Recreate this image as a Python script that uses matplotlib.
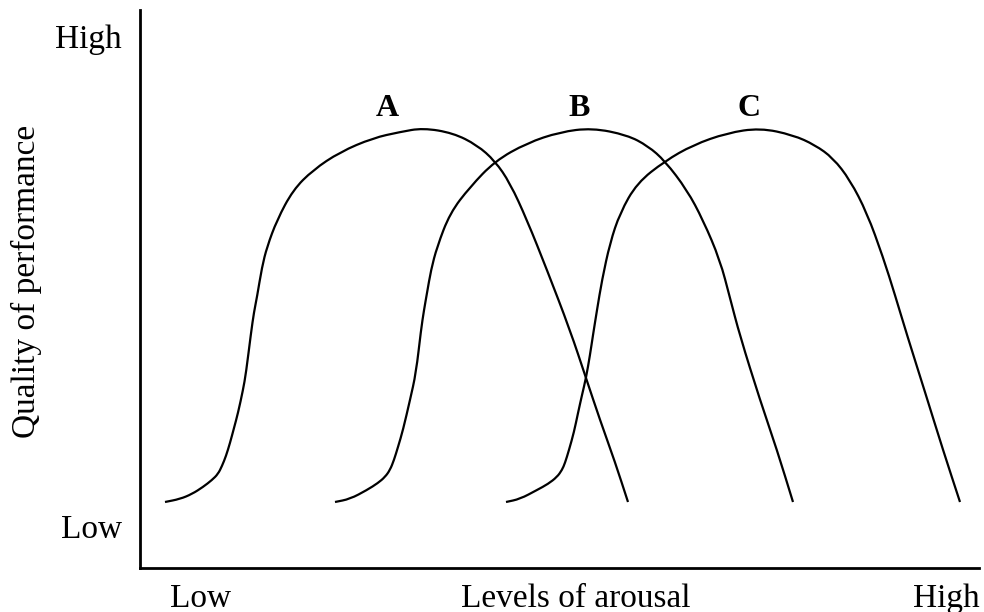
import matplotlib
matplotlib.use("Agg")
import matplotlib.pyplot as plt
from matplotlib.path import Path
from matplotlib.patches import PathPatch

plt.rcParams['font.family'] = ['Liberation Serif', 'DejaVu Serif']

# curves (x = arousal, y = performance, arbitrary units)
xA = [25, 40, 52, 63, 72, 78, 82, 86, 90, 94, 98, 103, 106, 111, 114, 117, 122, 127, 137, 153, 173, 200,
      233, 260, 283, 313, 337, 355, 370, 387, 407, 430, 446, 460, 475, 488]
yA = [66, 69, 74, 81, 88, 94, 102, 112, 125, 140, 155, 178, 195, 235, 256, 271, 301, 321, 348, 378, 398, 416,
      430, 436, 440, 435, 423, 407, 385, 348, 298, 238, 190, 148, 106, 66]

xB = [195, 210, 227, 238, 245, 250, 254, 258, 263, 270, 276, 281, 284, 287, 291, 297, 310, 330, 355, 387,
      420, 452, 487, 508, 525, 547, 563, 580, 590, 600, 620, 637, 653]
yB = [66, 69, 78, 85, 91, 98, 108, 121, 138, 168, 195, 238, 258, 275, 298, 321, 355, 381, 407, 425,
      436, 440, 433, 422, 407, 378, 348, 308, 270, 232, 168, 118, 66]

xC = [366, 380, 397, 408, 417, 422, 425, 429, 434, 438, 442, 446, 450, 453, 457, 462, 470, 480, 497, 525,
      553, 587, 620, 653, 675, 693, 710, 727, 743, 755, 767, 785, 803, 820]
yC = [66, 69, 78, 84, 91, 98, 105, 118, 136, 155, 173, 190, 213, 233, 258, 288, 325, 355, 385, 407,
      423, 435, 440, 433, 423, 410, 388, 355, 311, 273, 233, 176, 118, 66]

curveNames = ['A', 'B', 'C']
namePos = [(247, 459), (439, 459), (609, 460)]

xTickPos = [61, 436, 806]
xTickLabels = ['Low', 'Levels of arousal', 'High']
yTickPos = [42, 532]
yTickLabels = ['Low', 'High']


def SmoothPath(xs, ys):
    # quadratic curve through the midpoints, read points act as control points
    pts = list(zip(xs, ys))
    verts = [pts[0]]
    codes = [Path.MOVETO]
    mid = ((pts[0][0] + pts[1][0]) / 2, (pts[0][1] + pts[1][1]) / 2)
    verts.append(mid)
    codes.append(Path.LINETO)
    for i in range(1, len(pts) - 1):
        nxt = ((pts[i][0] + pts[i + 1][0]) / 2, (pts[i][1] + pts[i + 1][1]) / 2)
        verts += [pts[i], nxt]
        codes += [Path.CURVE3, Path.CURVE3]
    verts.append(pts[-1])
    codes.append(Path.LINETO)
    return Path(verts, codes)


fig = plt.figure(figsize=(9.84, 6.12), dpi=100)
ax = fig.add_axes([140 / 984, 44 / 612, 839 / 984, 558 / 612])

for xs, ys in [(xA, yA), (xB, yB), (xC, yC)]:
    ax.add_patch(PathPatch(SmoothPath(xs, ys), facecolor='none', edgecolor='black', lw=1.6))

for name, (tx, ty) in zip(curveNames, namePos):
    ax.text(tx, ty, name, fontsize=23, fontweight='bold', ha='center', va='center')

ax.set_xlim(0, 839)
ax.set_ylim(0, 558)
ax.spines['top'].set_visible(False)
ax.spines['right'].set_visible(False)
ax.spines['left'].set_linewidth(2)
ax.spines['bottom'].set_linewidth(2)

ax.set_xticks(xTickPos)
ax.set_xticklabels(xTickLabels, fontsize=24)
ax.set_yticks(yTickPos)
ax.set_yticklabels(yTickLabels, fontsize=24)
ax.tick_params(axis='x', length=0, pad=11)
ax.tick_params(axis='y', length=0, pad=13)

ax.set_ylabel('Quality of performance', fontsize=24)
ax.yaxis.set_label_coords(-0.1168, 0.514)

fig.savefig('out.png', dpi=100)
